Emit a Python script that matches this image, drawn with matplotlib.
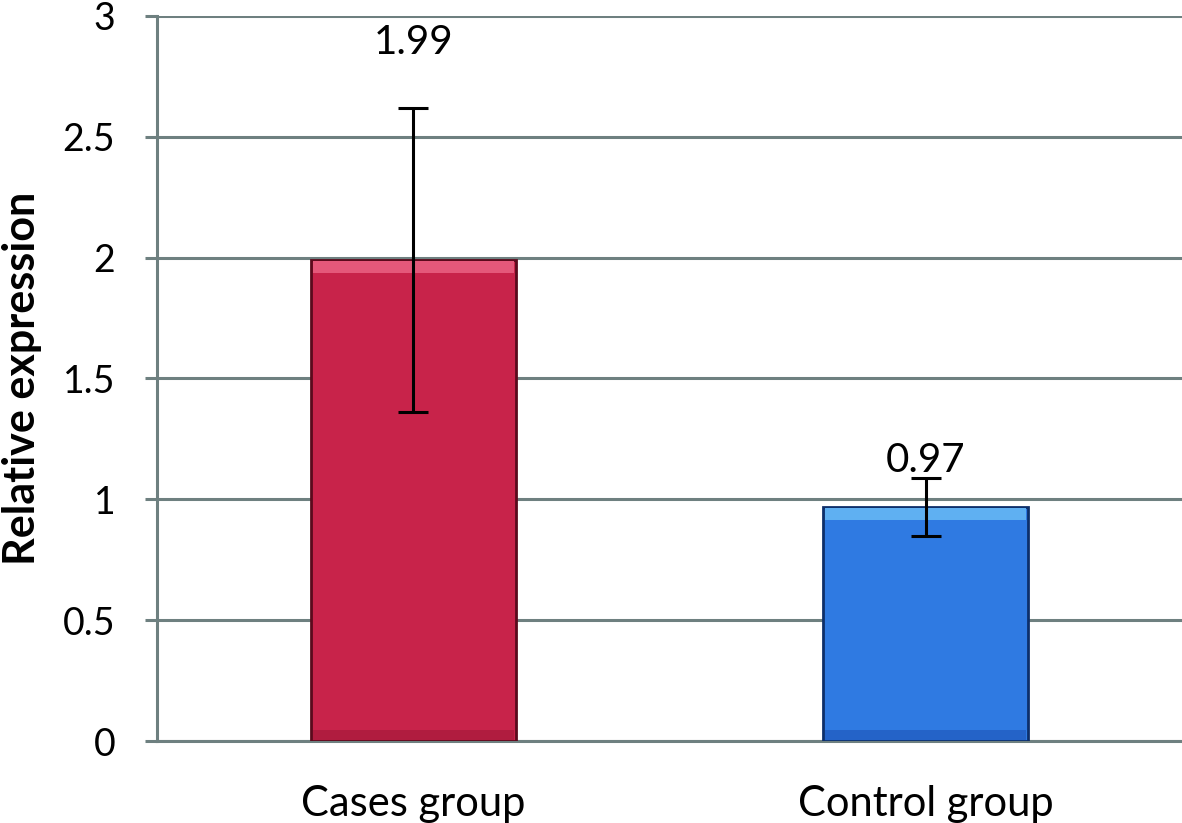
import matplotlib.pyplot as plt
import numpy as np

plt.rcParams["font.family"] = ["Lato", "DejaVu Sans"]

groups = ["Cases group", "Control group"]
means = [1.99, 0.97]
err_lo = [1.36, 0.85]
err_hi = [2.62, 1.09]
value_labels = ["1.99", "0.97"]
yticks = [0, 0.5, 1, 1.5, 2, 2.5, 3]

GRID = "#6e8080"
fill_cols = ["#c8234a", "#2f7ae2"]
edge_cols = ["#5a0a1c", "#0d2f6a"]
top_cols = ["#e4587a", "#5fb0f2"]
base_cols = ["#b01c3f", "#2463c8"]

fig = plt.figure(figsize=(11.82, 8.23), dpi=100)
ax = fig.add_axes([0.1328, 0.0996, 0.8672, 0.881])

x = np.arange(len(groups))
means_a = np.array(means)
lo = means_a - np.array(err_lo)
hi = np.array(err_hi) - means_a

# bars with a dark rim and bevel bands at top and bottom
ax.bar(x, means_a, width=0.4, color=fill_cols, edgecolor=edge_cols,
       linewidth=2.0, zorder=3)
band = 0.05
ax.bar(x, band, bottom=means_a - band - 0.004, width=0.392, color=top_cols,
       linewidth=0, zorder=4)
ax.bar(x, band * 0.8, bottom=0.004, width=0.392, color=base_cols,
       linewidth=0, zorder=4)

ax.errorbar(x, means_a, yerr=[lo, hi], fmt="none", ecolor="black",
            elinewidth=2.2, capsize=11, capthick=2.2, zorder=5)

# data labels (offset above the error bar, as placed in the source)
offsets = [0.27, 0.07]
for xi, top, off, lab in zip(x, err_hi, offsets, value_labels):
    ax.text(xi, top + off, lab, ha="center", va="center", fontsize=29,
            zorder=6)

ax.set_xlim(-0.5, 1.5)
ax.set_ylim(0, 3)
ax.set_yticks(yticks)
ax.set_yticklabels([f"{t:g}" for t in yticks], fontsize=27)
ax.set_xticks(x)
ax.set_xticklabels(groups, fontsize=30)
ax.tick_params(axis="x", length=0, pad=32)
ax.tick_params(axis="y", length=9, width=2.2, color=GRID, pad=21)

ax.yaxis.grid(True, color=GRID, linewidth=2.2, zorder=0)
ax.set_axisbelow(True)
for side in ["top", "right"]:
    ax.spines[side].set_visible(False)
ax.spines["left"].set_color(GRID)
ax.spines["left"].set_linewidth(2.2)
ax.spines["bottom"].set_color(GRID)
ax.spines["bottom"].set_linewidth(2.2)

ax.set_ylabel("Relative expression", fontsize=31, fontweight="bold",
              va="center")
ax.yaxis.set_label_coords(-0.132, 0.5)

fig.savefig("out.png", dpi=100)
